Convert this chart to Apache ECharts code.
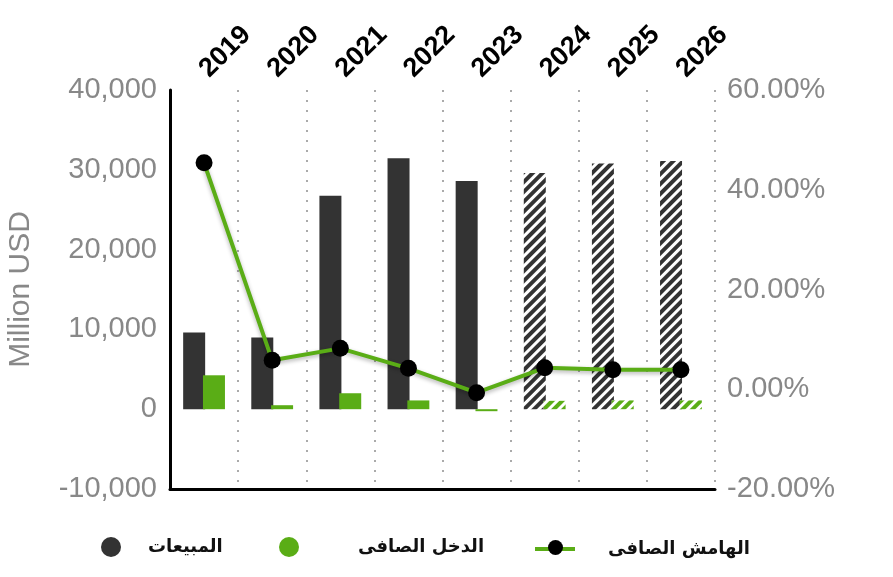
<!DOCTYPE html>
<html><head><meta charset="utf-8">
<script src="https://cdn.jsdelivr.net/npm/echarts@6/dist/echarts.min.js"></script>
<style>html,body{margin:0;padding:0;background:#fff}#c{width:893px;height:577px}</style>
</head><body><div id="c"></div>
<script>
var years = ['2019','2020','2021','2022','2023','2024','2025','2026'];
var sales = [9600, 9000, 26750, 31450, 28600, 29600, 30800, 31100];
var netIncome = [4250, 500, 2000, 1100, -250, 1050, 1100, 1100];
var netMargin = [45.4, 5.8, 8.2, 4.2, -0.7, 4.3, 3.9, 3.9];
var forecastFrom = 5; // index of first forecast year
var leftTicks = {min: -10000, max: 40000, interval: 10000};
var rightTicks = {min: -20, max: 60, interval: 20};
var seriesNames = ['المبيعات', 'الدخل الصافى', 'الهامش الصافى'];

var DARK = '#333333', GREEN = '#5aad16';
function hatched(vals, color) {
  return vals.map(function (v, i) {
    if (i < forecastFrom) return v;
    return {value: v, itemStyle: {color: '#ffffff', decal: {
      symbol: 'rect', symbolSize: 1, color: color,
      dashArrayX: [1, 0], dashArrayY: [4, 3], rotation: -Math.PI / 4
    }}};
  });
}
function legendAt(name, left, top, w, h, pad, icon, color, noText) {
  return {
    top: top, left: left, padding: 0, itemWidth: w, itemHeight: h, selectedMode: false,
    itemStyle: {color: color}, lineStyle: {width: 0},
    formatter: noText ? function () { return ''; } : null,
    textStyle: {fontFamily: 'DejaVu Sans', fontSize: 18, fontWeight: 'bold', color: '#111', padding: [0, 0, 0, pad]},
    data: [{name: name, icon: icon}]
  };
}
var chart = echarts.init(document.getElementById('c'), null, {renderer: 'canvas'});
chart.setOption({
  animation: false,
  grid: {left: 170, right: 178, top: 90, bottom: 88, containLabel: false, outerBoundsMode: 'none'},
  legend: [
    legendAt(seriesNames[0], 101, 537, 44, 20, 10, 'circle', DARK),
    legendAt(seriesNames[1], 279, 537, 44, 20, 42, 'circle', GREEN),
    legendAt(seriesNames[2], 535, 540, 40, 4, 28, 'rect', GREEN),
    legendAt(seriesNames[2], 548, 540, 15, 15, 0, 'circle', '#000', true)
  ],
  xAxis: [{
    type: 'category', data: years, position: 'top',
    axisLine: {show: false}, axisTick: {show: false},
    axisLabel: {rotate: 45, fontFamily: 'Liberation Sans', fontWeight: 'bold', fontSize: 27, color: '#000', margin: 17},
    splitLine: {show: true, lineStyle: {type: [2, 8], color: '#aaa', width: 2}}
  }, {
    type: 'category', data: years, position: 'bottom',
    axisLine: {show: true, onZero: false, lineStyle: {color: '#000', width: 3}},
    axisTick: {show: false}, axisLabel: {show: false}
  }],
  yAxis: [{
    type: 'value', min: leftTicks.min, max: leftTicks.max, interval: leftTicks.interval,
    name: 'Million USD', nameLocation: 'middle', nameGap: 134,
    nameTextStyle: {fontFamily: 'Liberation Sans', fontSize: 30, color: '#888'},
    axisLine: {show: true, onZero: false, lineStyle: {color: '#000', width: 3}},
    axisTick: {show: false}, splitLine: {show: false},
    axisLabel: {fontFamily: 'Liberation Sans', fontSize: 29, color: '#888', margin: 13,
      formatter: function (v) { return v.toLocaleString('en-US'); }}
  }, {
    type: 'value', min: rightTicks.min, max: rightTicks.max, interval: rightTicks.interval,
    position: 'right', axisLine: {show: false}, axisTick: {show: false}, splitLine: {show: false},
    axisLabel: {fontFamily: 'Liberation Sans', fontSize: 29, color: '#888', margin: 12,
      formatter: function (v) { return v.toFixed(2) + '%'; }}
  }],
  series: [{
    name: seriesNames[0], type: 'bar', data: hatched(sales, DARK), barWidth: 22, barGap: '-10%',
    itemStyle: {color: DARK}
  }, {
    name: seriesNames[1], type: 'bar', data: hatched(netIncome, GREEN), barWidth: 22,
    itemStyle: {color: GREEN}
  }, {
    name: seriesNames[2], type: 'line', yAxisIndex: 1, data: netMargin,
    symbol: 'circle', symbolSize: 17, itemStyle: {color: '#000'},
    lineStyle: {color: GREEN, width: 4, shadowColor: 'rgba(0,0,0,0.3)', shadowBlur: 4, shadowOffsetY: 2},
    z: 5
  }]
});
</script></body></html>
